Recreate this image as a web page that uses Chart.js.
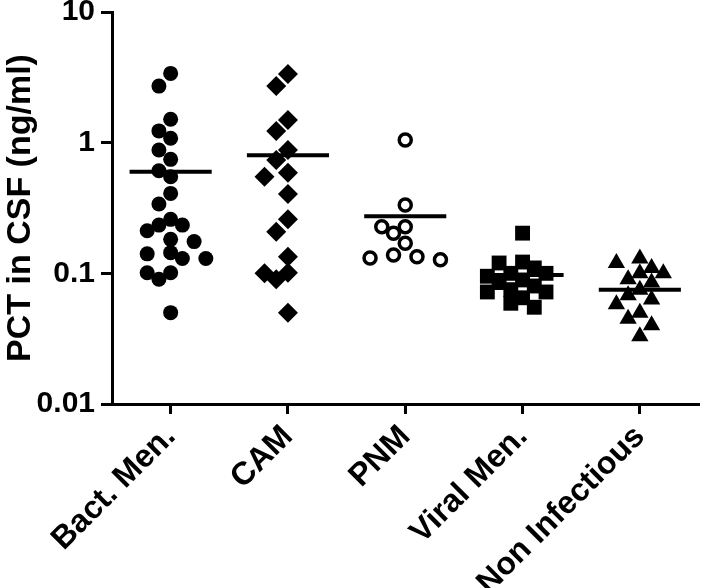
<!DOCTYPE html>
<html lang="en">
<head>
<meta charset="UTF-8">
<title>PCT in CSF</title>
<script src="https://cdn.jsdelivr.net/npm/chart.js"></script>
<style>
  body { margin: 0; background: #fff; }
  #wrap { width: 709px; height: 588px; }
</style>
</head>
<body>
<div id="wrap"><canvas id="chart" width="709" height="588"></canvas></div>
<script>
// groups on the x axis
const categories = ['Bact. Men.', 'CAM', 'PNM', 'Viral Men.', 'Non Infectious'];

// PCT values (ng/ml)
const bactMen = [3.39, 2.71, 1.51, 1.23, 1.08, 0.878, 0.745, 0.61, 0.548, 0.409, 0.339, 0.259, 0.234, 0.234,
  0.212, 0.182, 0.175, 0.144, 0.141, 0.13, 0.13, 0.101, 0.101, 0.09, 0.05];
const cam = [3.35, 2.71, 1.49, 1.23, 0.878, 0.736, 0.589, 0.548, 0.404, 0.259, 0.208, 0.134, 0.1, 0.101, 0.09, 0.05];
const pnm = [1.05, 0.333, 0.227, 0.227, 0.203, 0.17, 0.138, 0.134, 0.131, 0.127];
const viralMen = [0.203, 0.122, 0.12, 0.11, 0.1, 0.1, 0.095, 0.089, 0.085, 0.08, 0.075, 0.072, 0.072, 0.065, 0.059, 0.055];
const nonInfectious = [0.13, 0.12, 0.11, 0.1, 0.1, 0.09, 0.085, 0.075, 0.068, 0.063, 0.058, 0.05, 0.045, 0.04, 0.033];

// mean bars
const means = [0.60, 0.80, 0.274, 0.097, 0.075];

// y axis ticks
const yTicks = [0.01, 0.1, 1, 10];

const groups = [bactMen, cam, pnm, viralMen, nonInfectious];

// spread points sideways so they don't sit on each other (column scatter)
function swarm(values, idx) {
  const step = 0.1, pxX = 119, pxY = 130.7, gap = 13;
  const placed = [];
  values.slice().sort((a, b) => b - a).forEach(v => {
    const ly = Math.log10(v);
    for (let k = 0; k < 30; k++) {
      const off = (k % 2 ? -1 : 1) * Math.ceil(k / 2) * step;
      const hit = placed.some(p => Math.hypot((p.off - off) * pxX, (p.ly - ly) * pxY) < gap);
      if (!hit) { placed.push({ off, ly, v }); break; }
    }
  });
  return placed.map(p => ({ x: idx + p.off, y: p.v }));
}

const markerStyles = [
  { pointStyle: 'circle', pointRadius: 7.5, backgroundColor: '#000', borderColor: '#000', borderWidth: 0 },
  { pointStyle: 'rectRot', pointRadius: 10, backgroundColor: '#000', borderColor: '#000', borderWidth: 0 },
  { pointStyle: 'circle', pointRadius: 6, backgroundColor: '#fff', borderColor: '#000', borderWidth: 3.5 },
  { pointStyle: 'rect', pointRadius: 10.5, backgroundColor: '#000', borderColor: '#000', borderWidth: 0 },
  { pointStyle: 'triangle', pointRadius: 10, backgroundColor: '#000', borderColor: '#000', borderWidth: 0 }
];

const datasets = [];
groups.forEach((vals, i) => {
  datasets.push(Object.assign({
    type: 'scatter',
    label: categories[i],
    data: swarm(vals, i),
    pointHoverRadius: markerStyles[i].pointRadius,
    clip: false,
    order: 2
  }, markerStyles[i]));
  datasets.push({
    type: 'line',
    label: categories[i] + ' mean',
    data: [{ x: i - 0.35, y: means[i] }, { x: i + 0.35, y: means[i] }],
    borderColor: '#000',
    borderWidth: 4,
    pointRadius: 0,
    fill: false,
    clip: false,
    order: 1
  });
});

const font = 'Liberation Sans, Arial, sans-serif';

new Chart(document.getElementById('chart'), {
  type: 'scatter',
  data: { datasets },
  options: {
    responsive: false,
    animation: false,
    layout: { padding: { top: 12, right: 1, left: 0, bottom: 0 } },
    plugins: { legend: { display: false }, tooltip: { enabled: false } },
    scales: {
      x: {
        type: 'linear',
        min: -0.5,
        max: 4.5,
        afterBuildTicks: s => { s.ticks = categories.map((c, i) => ({ value: i })); },
        afterFit: s => { s.height = 184; },
        ticks: {
          callback: v => categories[v],
          color: '#000',
          font: { family: font, size: 32, weight: 'bold' },
          minRotation: 45,
          maxRotation: 45,
          padding: 4
        },
        grid: { drawOnChartArea: false, drawTicks: true, tickLength: 10, lineWidth: 3, color: '#000' },
        border: { display: true, width: 3, color: '#000' }
      },
      y: {
        type: 'logarithmic',
        min: 0.01,
        max: 10,
        afterBuildTicks: s => { s.ticks = yTicks.map(v => ({ value: v })); },
        afterFit: s => { s.width = 112; s.paddingTop = 0; s.paddingBottom = 0; },
        ticks: {
          callback: v => String(v),
          color: '#000',
          font: { family: font, size: 30, weight: 'bold' },
          padding: 6
        },
        grid: { drawOnChartArea: false, drawTicks: true, tickLength: 11, lineWidth: 3, color: '#000' },
        border: { display: true, width: 3, color: '#000' },
        title: {
          display: true,
          text: 'PCT in CSF (ng/ml)',
          color: '#000',
          font: { family: font, size: 34, weight: 'bold' },
          padding: { top: 0, bottom: 0 }
        }
      }
    }
  }
});
</script>
</body>
</html>
